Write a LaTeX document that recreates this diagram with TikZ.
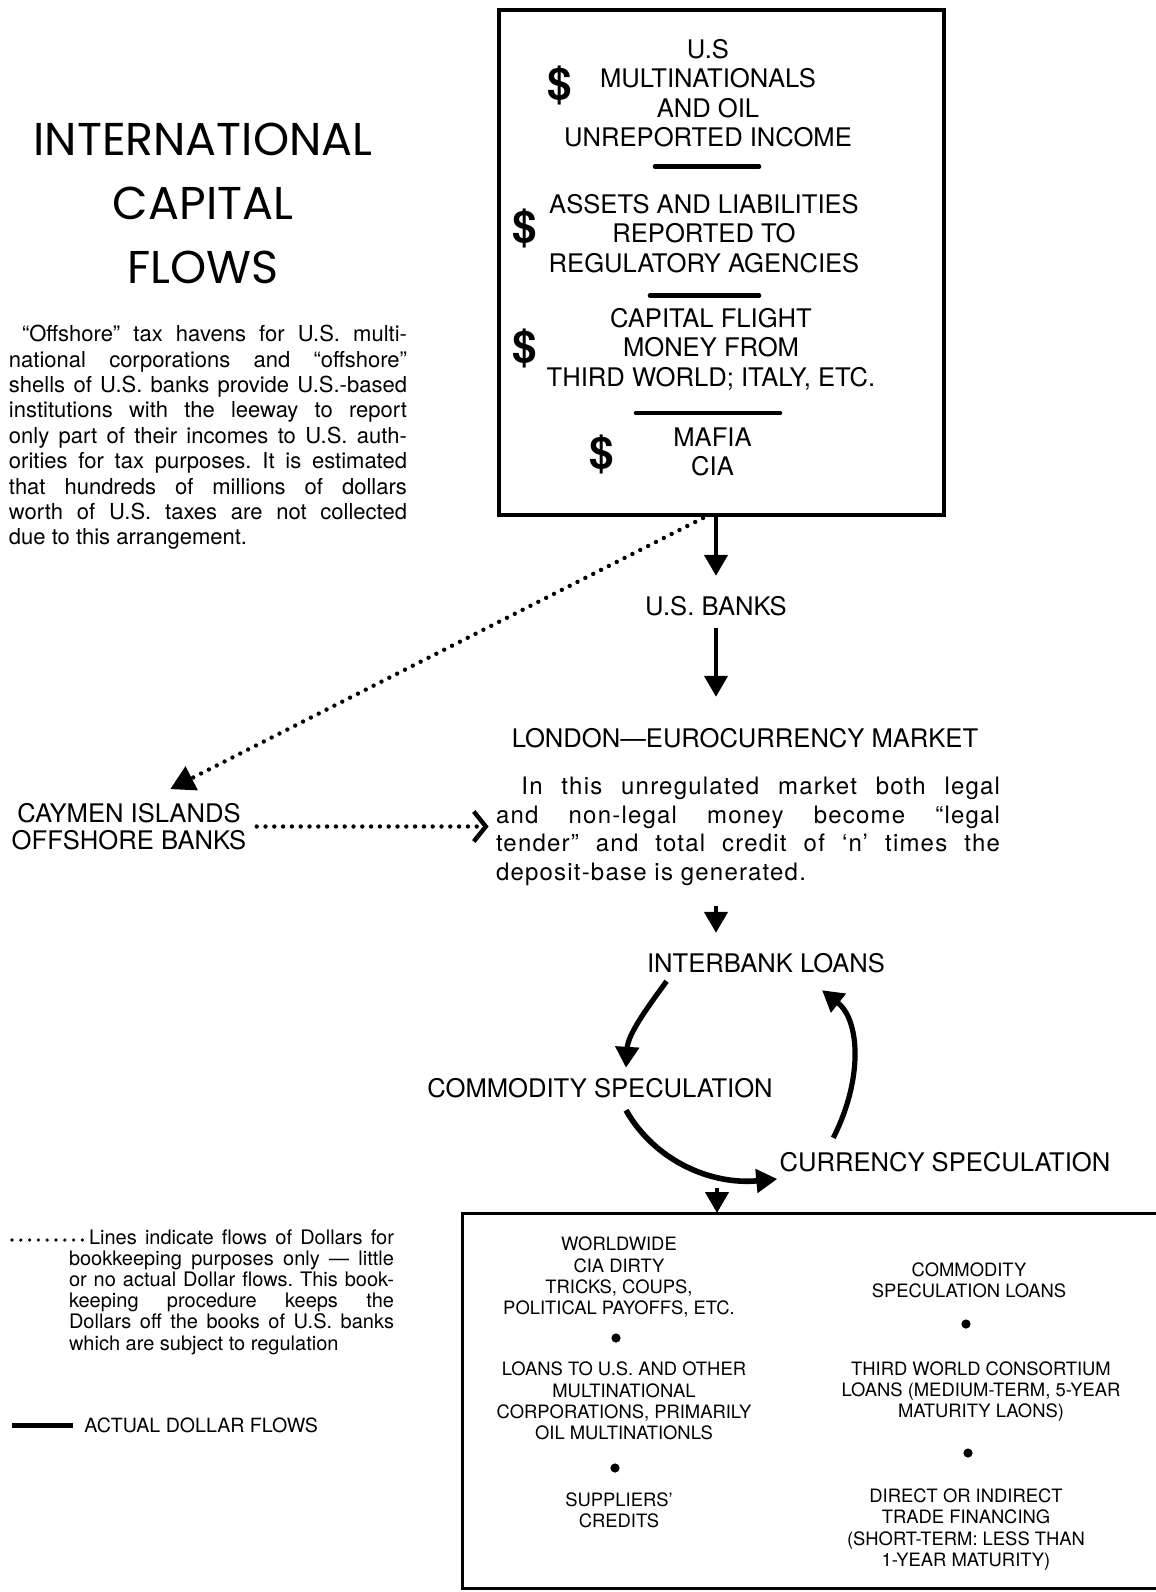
\documentclass[tikz,border=0pt]{standalone}
\usepackage{fontspec}
\setmainfont{TeX Gyre Heros}
\newfontfamily\titlefont{Poppins}
\newfontfamily\spacedfont[LetterSpace=5]{TeX Gyre Heros}
\usetikzlibrary{arrows.meta,calc}
\frenchspacing
\newcommand\JL[2]{\makebox[#1][s]{#2}}
\begin{document}
\begin{tikzpicture}[x=0.5pt,y=-0.5pt,
  lbl/.style={inner sep=0pt, align=center, font=\fontsize{12.8}{14.7}\selectfont},
  small/.style={inner sep=0pt, align=center, font=\fontsize{9.2}{10.65}\selectfont},
  para/.style={inner sep=0pt, align=left},
  dollar/.style={inner sep=0pt, font=\bfseries\fontsize{22}{22}\selectfont},
  rulebar/.style={line width=2.3pt, line cap=round},
  arr/.style={line width=2.2pt, -{Triangle[length=10.5pt,width=11.5pt]}},
  dotarr/.style={line width=2.2pt, line cap=round, dash pattern=on 0pt off 4.4pt},
  bullet/.style={circle, fill, inner sep=0pt, minimum size=4.6pt}
]
\fill[white, use as bounding box] (0,0) rectangle (1156,1592);

% ---- title and intro paragraph
\node[inner sep=0pt, align=center, font=\titlefont\fontsize{23}{32.2}\selectfont] (title) at (203,203.5)
  {INTERNATIONAL\\CAPITAL\\FLOWS};
\node[para, font=\fontsize{11}{12.7}\selectfont] (offshore) at (208,437.5) {%
\JL{199pt}{\hspace{6.5pt}“Offshore” tax havens for U.S. multi-}\\
\JL{199pt}{national corporations and “offshore”}\\
\JL{199pt}{shells of U.S. banks provide U.S.-based}\\
\JL{199pt}{institutions with the leeway to report}\\
\JL{199pt}{only part of their incomes to U.S. auth-}\\
\JL{199pt}{orities for tax purposes. It is estimated}\\
\JL{199pt}{that hundreds of millions of dollars}\\
\JL{199pt}{worth of U.S. taxes are not collected}\\
due to this arrangement.};

% ---- top box
\node[draw, line width=2pt, minimum width=222.5pt, minimum height=252.5pt, inner sep=0pt] (topbox) at (721.5,262.5) {};
\node[lbl] (g1) at (708,93) {U.S\\MULTINATIONALS\\AND OIL\\UNREPORTED INCOME};
\node[lbl] (g2) at (704,233.5) {ASSETS AND LIABILITIES\\REPORTED TO\\REGULATORY AGENCIES};
\node[lbl] (g3) at (711,349) {CAPITAL FLIGHT\\MONEY FROM\\THIRD WORLD; ITALY, ETC.};
\node[lbl] (g4) at (712.5,452) {MAFIA\\CIA};
\node[dollar] (d1) at (560,85) {\$};
\node[dollar] (d2) at (525,228) {\$};
\node[dollar] (d3) at (525,348) {\$};
\node[dollar] (d4) at (602,454) {\$};
\draw[rulebar] (655,166.5) -- (759,166.5);
\draw[rulebar] (650,295.5) -- (759,295.5);
\draw[rulebar] (636,413) -- (780,413);

% ---- middle chain
\node[lbl] (usbanks) at (716,606) {U.S. BANKS};
\node[lbl] (london) at (745,738) {LONDON—EUROCURRENCY MARKET};
\node[para, font=\spacedfont\fontsize{12}{14.3}\selectfont] (londontext) at (748,831.5) {%
\JL{252pt}{\hspace{12.7pt}In this unregulated market both legal}\\
\JL{252pt}{and non-legal money become “legal}\\
\JL{252pt}{tender” and total credit of ‘n’ times the}\\
deposit-base is generated.};
\node[lbl, font=\fontsize{12.8}{13.7}\selectfont] (caymen) at (129,826.5) {CAYMEN ISLANDS\\OFFSHORE BANKS};
\node[lbl] (interbank) at (766,963) {INTERBANK LOANS};
\node[lbl] (commodity) at (600,1088) {COMMODITY SPECULATION};
\node[lbl] (currency) at (945,1162) {CURRENCY SPECULATION};

\draw[arr] (topbox.south -| usbanks) -- ($(usbanks.north)+(0,-20)$);
\draw[arr] ($(usbanks.south)+(0,12)$) -- ($(usbanks.south |- london.north)+(0,-31)$);
\draw[arr] ($(londontext.south -| usbanks)+(0,20)$) -- ($(interbank.north -| usbanks)+(0,-20)$);
\draw[arr, line width=2.6pt] ($(interbank.south west)+(20,8)$) .. controls +(-22,30) and +(2,-33) .. ($(commodity.north)+(26,-10)$);
\draw[arr, line width=2.8pt] ($(commodity.south)+(26,12)$) .. controls +(29,51) and +(-66,6) .. ($(currency.west)+(-2,17)$);
\draw[arr, line width=2.6pt] ($(currency.north west)+(54,-14)$) .. controls +(30,-59) and +(38,30) .. ($(interbank.south)+(56,17)$);

% dotted flows
\draw[dotarr, -{Triangle[length=12pt,width=13pt]}] ($(topbox.south)+(-18.5,1)$) -- ($(caymen.north west)+(159,-13.5)$);
\draw[dotarr, -{Straight Barb[length=6pt,width=15pt,line width=2.2pt]}] ($(caymen.east)+(10,0)$) -- ($(caymen.east -| londontext.west)+(-7,0)$);

% ---- bottom box
\coordinate (boxin) at (717,1213);
\draw[line width=1.5pt] (1156,1213) -- (462,1213) -- (462,1588) -- (1156,1588);
\draw[arr] ($(boxin)+(0,-25)$) -- (boxin);

\node[small] (l1) at (619,1277.4) {WORLDWIDE\\CIA DIRTY\\TRICKS, COUPS,\\POLITICAL PAYOFFS, ETC.};
\node[bullet] (b1) at (616,1338) {};
\node[small] (l2) at (624,1401) {LOANS TO U.S. AND OTHER\\MULTINATIONAL\\CORPORATIONS, PRIMARILY\\OIL MULTINATIONLS};
\node[bullet] (b2) at (615,1468) {};
\node[small] (l3) at (619,1510) {SUPPLIERS’\\CREDITS};
\node[small] (r1) at (969,1280) {COMMODITY\\SPECULATION LOANS};
\node[bullet] (b3) at (966,1324) {};
\node[small] (r2) at (981,1391.5) {THIRD WORLD CONSORTIUM\\LOANS (MEDIUM-TERM, 5-YEAR\\MATURITY LAONS)};
\node[bullet] (b4) at (968,1453) {};
\node[small] (r3) at (966,1529.6) {DIRECT OR INDIRECT\\TRADE FINANCING\\(SHORT-TERM: LESS THAN\\1-YEAR MATURITY)};

% ---- legend
\coordinate (dotA) at (12,1240);
\coordinate (dotB) at (86,1240);
\draw[dotarr, line width=1.8pt] (dotA) -- (dotB);
\node[para, font=\fontsize{10}{10.6}\selectfont] (legend) at (231.5,1292) {%
\JL{162.5pt}{\hspace{10pt}Lines indicate flows of Dollars for}\\
\JL{162.5pt}{bookkeeping purposes only — little}\\
\JL{162.5pt}{or no actual Dollar flows. This book-}\\
\JL{162.5pt}{keeping procedure keeps the}\\
\JL{162.5pt}{Dollars off the books of U.S. banks}\\
which are subject to regulation};
\coordinate (solA) at (12,1425);
\coordinate (solB) at (73,1425);
\draw[line width=2.5pt] (solA) -- (solB);
\node[inner sep=0pt, anchor=west, font=\fontsize{9.8}{10}\selectfont] (actual) at (84,1425) {ACTUAL DOLLAR FLOWS};
\end{tikzpicture}
\end{document}
